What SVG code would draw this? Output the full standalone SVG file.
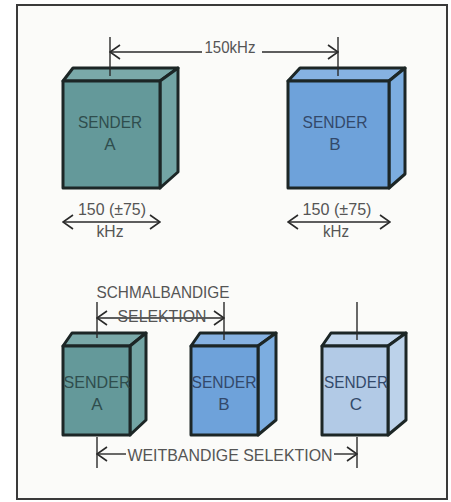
<svg xmlns="http://www.w3.org/2000/svg" width="451" height="502" viewBox="0 0 451 502">
<style>
.frame{fill:#fbfbf9;stroke:#3a3a3a;stroke-width:2}
.box{stroke:#1c2626;stroke-width:3;stroke-linejoin:round}
.a{fill:#64999a}.aS{fill:#72a4a4}.aT{fill:#7aa9a9}
.b{fill:#6ea2da}.bS{fill:#7cade0}.bT{fill:#86b2e2}
.c{fill:#b2cae6}.cS{fill:#bcd2ea}.cT{fill:#c2d6ec}
.ln{stroke:#2a2a2a;stroke-width:1.4;fill:none}
.lbl{font-family:"Liberation Sans",Arial,sans-serif;font-size:17px;fill:#555;text-anchor:middle}
.in{font-family:"Liberation Sans",Arial,sans-serif;font-size:17px;fill:#2f4d4d;text-anchor:middle}
.inb{fill:#33496a}
</style>
<defs>
<marker id="ah" viewBox="-12 -8 13 16" markerWidth="13" markerHeight="16" refX="0" refY="0" orient="auto-start-reverse" markerUnits="userSpaceOnUse">
<path d="M-10,-7 L0,0 L-10,7" fill="none" stroke="#2a2a2a" stroke-width="1.6"/>
</marker>
</defs>
<rect class="frame" x="17" y="5" width="430" height="494"/>

<g id="senderA">
<polygon class="box aT" points="63,81 73,68 178,68 160,81"/>
<polygon class="box aS" points="160,81 178,68 178,172 160,188"/>
<rect class="box a" x="63" y="81" width="97" height="107"/>
<text class="in" x="110" y="128" textLength="64" lengthAdjust="spacingAndGlyphs">SENDER</text>
<text class="in" x="110" y="150">A</text>
</g>
<g id="senderB">
<polygon class="box bT" points="288,81 300,68 405,68 389,81"/>
<polygon class="box bS" points="389,81 405,68 405,174 389,188"/>
<rect class="box b" x="288" y="81" width="101" height="107"/>
<text class="in inb" x="335" y="128" textLength="65" lengthAdjust="spacingAndGlyphs">SENDER</text>
<text class="in inb" x="335" y="150">B</text>
</g>
<g id="senderA2">
<polygon class="box aT" points="63,346 72,333 146,333 130,346"/>
<polygon class="box aS" points="130,346 146,333 146,420 130,435"/>
<rect class="box a" x="63" y="346" width="67" height="89"/>
<text class="in" x="97" y="388" textLength="67" lengthAdjust="spacingAndGlyphs">SENDER</text>
<text class="in" x="97" y="410">A</text>
</g>
<g id="senderB2">
<polygon class="box bT" points="191,346 200,333 276,333 258,346"/>
<polygon class="box bS" points="258,346 276,333 276,420 258,435"/>
<rect class="box b" x="191" y="346" width="67" height="89"/>
<text class="in inb" x="224" y="388" textLength="65" lengthAdjust="spacingAndGlyphs">SENDER</text>
<text class="in inb" x="224" y="410">B</text>
</g>
<g id="senderC">
<polygon class="box cT" points="322,346 331,333 406,333 388,346"/>
<polygon class="box cS" points="388,346 406,333 406,420 388,435"/>
<rect class="box c" x="322" y="346" width="66" height="89"/>
<text class="in inb" x="356" y="388" textLength="64" lengthAdjust="spacingAndGlyphs">SENDER</text>
<text class="in inb" x="356" y="410">C</text>
</g>

<g id="connectors">
<line class="ln" x1="110" y1="37" x2="110" y2="76"/>
<line class="ln" x1="338" y1="37" x2="338" y2="76"/>
<line class="ln" x1="110" y1="52" x2="202" y2="52" marker-start="url(#ah)"/>
<line class="ln" x1="262" y1="52" x2="338" y2="52" marker-end="url(#ah)"/>
<line class="ln" x1="63" y1="222" x2="160" y2="222" marker-start="url(#ah)" marker-end="url(#ah)"/>
<line class="ln" x1="288" y1="222" x2="390" y2="222" marker-start="url(#ah)" marker-end="url(#ah)"/>
<line class="ln" x1="97" y1="302" x2="97" y2="338"/>
<line class="ln" x1="224" y1="302" x2="224" y2="340"/>
<line class="ln" x1="357" y1="302" x2="357" y2="340"/>
<line class="ln" x1="97" y1="318" x2="224" y2="318" marker-start="url(#ah)" marker-end="url(#ah)"/>
<line class="ln" x1="97" y1="437" x2="97" y2="468"/>
<line class="ln" x1="357" y1="437" x2="357" y2="468"/>
<line class="ln" x1="97" y1="454" x2="126" y2="454" marker-start="url(#ah)"/>
<line class="ln" x1="334" y1="454" x2="357" y2="454" marker-end="url(#ah)"/>
</g>

<g id="labels">
<text class="lbl" x="230" y="53" textLength="51" lengthAdjust="spacingAndGlyphs">150kHz</text>
<text class="lbl" x="112" y="215" textLength="68" lengthAdjust="spacingAndGlyphs">150 (±75)</text>
<text class="lbl" x="110" y="237" textLength="27" lengthAdjust="spacingAndGlyphs">kHz</text>
<text class="lbl" x="337" y="215" textLength="69" lengthAdjust="spacingAndGlyphs">150 (±75)</text>
<text class="lbl" x="336" y="237" textLength="26" lengthAdjust="spacingAndGlyphs">kHz</text>
<text class="lbl" x="163" y="298" textLength="133" lengthAdjust="spacingAndGlyphs">SCHMALBANDIGE</text>
<text class="lbl" x="162" y="322" textLength="89" lengthAdjust="spacingAndGlyphs">SELEKTION</text>
<text class="lbl" x="230" y="461" textLength="205" lengthAdjust="spacingAndGlyphs">WEITBANDIGE SELEKTION</text>
</g>
</svg>
